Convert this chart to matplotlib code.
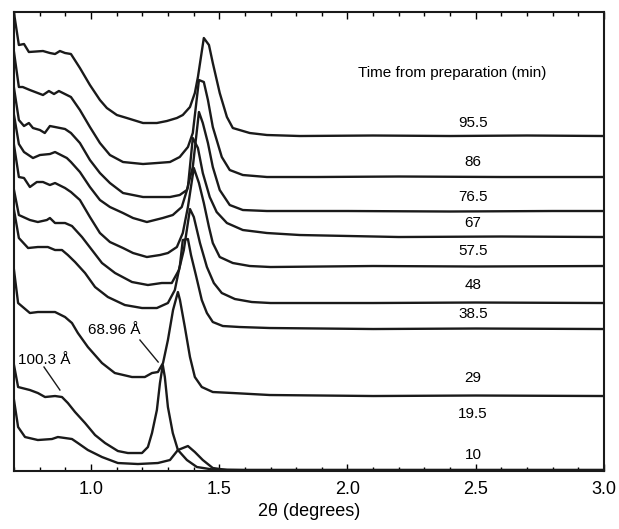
import matplotlib
matplotlib.use("Agg")
import matplotlib.pyplot as plt
from matplotlib.ticker import MultipleLocator

plt.rcParams['font.family'] = ['Liberation Sans', 'DejaVu Sans']

# stacked SAXS patterns, intensity in arbitrary (offset) units
# each curve: (2theta list, intensity list)
t95_5_x = [0.70, 0.719, 0.739, 0.758, 0.813, 0.840, 0.860, 0.879, 0.899, 0.922, 0.957, 0.996, 1.035,
           1.062, 1.101, 1.140, 1.203, 1.257, 1.296, 1.335, 1.358, 1.386, 1.405, 1.417, 1.440, 1.460,
           1.475, 1.502, 1.530, 1.553, 1.619, 1.686, 1.814, 2.1, 2.4, 2.7, 3.0]
t95_5_y = [458, 426, 427, 419, 420, 418, 417, 420, 418, 417, 403, 386, 371,
           363, 356, 353, 348, 348, 350, 353, 356, 364, 378, 394, 433, 426,
           408, 378, 354, 343, 338, 336, 335, 335.5, 335, 335.5, 335]

t86_x = [0.70, 0.719, 0.734, 0.762, 0.813, 0.836, 0.856, 0.875, 0.922, 0.957, 0.996, 1.035, 1.074,
         1.125, 1.203, 1.257, 1.308, 1.346, 1.378, 1.397, 1.421, 1.440, 1.456, 1.475, 1.510, 1.541,
         1.592, 1.686, 1.880, 2.2, 2.6, 3.0]
t86_y = [419, 384, 384, 381, 376, 380, 377, 380, 374, 361, 344, 328, 316,
         309, 307, 308, 309, 314, 324, 338, 391, 389, 371, 344, 314, 301,
         296, 294, 294, 294.5, 294, 294]

t76_5_x = [0.70, 0.719, 0.739, 0.758, 0.774, 0.801, 0.820, 0.840, 0.860, 0.899, 0.922, 0.957, 0.996,
           1.035, 1.074, 1.125, 1.203, 1.257, 1.308, 1.346, 1.374, 1.397, 1.421, 1.436, 1.456, 1.475,
           1.502, 1.541, 1.592, 1.686, 2.0, 2.4, 2.8, 3.0]
t76_5_y = [383, 351, 345, 348, 343, 341, 338, 345, 344, 342, 338, 328, 311,
           298, 288, 278, 274, 274, 274, 276, 281, 304, 359, 348, 328, 304,
           281, 266, 261, 260, 260, 259.5, 260, 260]

t67_x = [0.70, 0.719, 0.739, 0.774, 0.801, 0.840, 0.860, 0.906, 0.922, 0.957, 0.996, 1.035, 1.074,
         1.125, 1.164, 1.218, 1.280, 1.319, 1.354, 1.378, 1.397, 1.417, 1.436, 1.463, 1.490, 1.530,
         1.592, 1.686, 1.814, 2.2, 2.6, 3.0]
t67_y = [356, 327, 319, 313, 316, 317, 319, 313, 309, 299, 284, 271, 264,
         258, 253, 249, 253, 256, 264, 284, 333, 323, 298, 274, 259, 248,
         241, 238, 236, 234, 234.5, 234]

t57_5_x = [0.70, 0.719, 0.739, 0.762, 0.789, 0.813, 0.840, 0.860, 0.899, 0.922, 0.957, 0.996, 1.035,
           1.074, 1.125, 1.164, 1.218, 1.269, 1.300, 1.335, 1.358, 1.378, 1.401, 1.421, 1.440, 1.460,
           1.475, 1.502, 1.553, 1.619, 1.70, 2.1, 2.5, 3.0]
t57_5_y = [326, 294, 293, 284, 289, 289, 286, 288, 283, 279, 271, 254, 238,
           229, 223, 218, 214, 216, 218, 224, 238, 264, 303, 288, 268, 244,
           228, 214, 208, 205, 204, 205, 204.5, 205]

t48_x = [0.70, 0.719, 0.762, 0.793, 0.828, 0.840, 0.860, 0.899, 0.926, 0.965, 1.004, 1.043, 1.094,
         1.160, 1.222, 1.276, 1.315, 1.343, 1.362, 1.386, 1.401, 1.425, 1.452, 1.479, 1.510, 1.561,
         1.627, 1.70, 2.1, 2.5, 3.0]
t48_y = [281, 256, 251, 249, 251, 253, 248, 248, 245, 234, 221, 208, 198,
         189, 186, 188, 188, 201, 221, 262, 254, 228, 204, 188, 178, 172,
         169, 168, 168, 168.5, 168]

t38_5_x = [0.70, 0.719, 0.755, 0.793, 0.832, 0.860, 0.887, 0.910, 0.938, 0.977, 1.016, 1.066, 1.132,
           1.199, 1.257, 1.300, 1.327, 1.347, 1.358, 1.378, 1.390, 1.409, 1.432, 1.452, 1.475, 1.514,
           1.580, 1.697, 2.1, 2.5, 3.0]
t38_5_y = [261, 233, 223, 224, 224, 221, 221, 216, 209, 198, 184, 174, 166,
           163, 163, 168, 181, 206, 231, 232, 216, 196, 171, 158, 149, 145,
           144, 143, 142, 142.5, 142]

t29_x = [0.70, 0.716, 0.762, 0.793, 0.860, 0.899, 0.926, 0.949, 0.988, 1.043, 1.093, 1.160, 1.210,
         1.238, 1.261, 1.281, 1.300, 1.320, 1.339, 1.347, 1.366, 1.386, 1.405, 1.432, 1.475, 1.553,
         1.697, 2.1, 2.5, 3.0]
t29_y = [201, 168, 158, 159, 159, 154, 148, 138, 124, 108, 98, 94, 94,
         98, 99, 108, 131, 161, 179, 171, 144, 114, 94, 84, 79, 78,
         76, 75, 75.5, 75]

t19_5_x = [0.70, 0.716, 0.762, 0.793, 0.821, 0.860, 0.887, 0.910, 0.938, 0.977, 1.016, 1.055, 1.105,
           1.144, 1.199, 1.222, 1.238, 1.257, 1.269, 1.280, 1.288, 1.300, 1.319, 1.339, 1.374, 1.413,
           1.475, 1.6, 2.0, 2.5, 3.0]
t19_5_y = [106, 84, 81, 78, 74, 75, 74, 68, 59, 48, 36, 28, 20,
           18, 18, 24, 38, 61, 88, 106, 94, 64, 38, 21, 11, 4,
           1.5, 1, 1, 1, 1]

t10_x = [0.70, 0.716, 0.743, 0.793, 0.848, 0.871, 0.899, 0.926, 0.949, 0.988, 1.043, 1.105, 1.183,
         1.261, 1.308, 1.339, 1.378, 1.405, 1.436, 1.475, 1.530, 2.0, 2.5, 3.0]
t10_y = [71, 44, 34, 31, 32, 34, 33, 32, 28, 21, 14, 8, 7,
         8, 11, 21, 25, 19, 11, 3, 1, 1, 1, 1]

curves = [(t95_5_x, t95_5_y), (t86_x, t86_y), (t76_5_x, t76_5_y), (t67_x, t67_y),
          (t57_5_x, t57_5_y), (t48_x, t48_y), (t38_5_x, t38_5_y), (t29_x, t29_y),
          (t19_5_x, t19_5_y), (t10_x, t10_y)]

times = ['95.5', '86', '76.5', '67', '57.5', '48', '38.5', '29', '19.5', '10']
label_y = [348, 309, 274, 248, 220, 186, 157, 93, 57, 16]

# d-spacing callouts: text position and pointer line ends
d_labels = ['68.96 Å', '100.3 Å']
d_text_xy = [(0.988, 141), (0.716, 111)]
d_line_x = [(1.191, 1.262), (0.817, 0.879)]
d_line_y = [(131, 109), (104, 81)]

fig = plt.figure(figsize=(6.19, 5.29), dpi=100)
ax = fig.add_axes([0.0226, 0.1096, 0.9532, 0.8677])

for (x, y) in curves:
    ax.plot(x, y, color='#1a1a1a', lw=1.7)

for t, ly in zip(times, label_y):
    ax.text(2.49, ly, t, ha='center', va='center', fontsize=11)

ax.text(2.41, 398, 'Time from preparation (min)', ha='center', va='center', fontsize=11)

for lab, (tx, ty), lx, ly in zip(d_labels, d_text_xy, d_line_x, d_line_y):
    ax.text(tx, ty, lab, ha='left', va='center', fontsize=11)
    ax.plot(lx, ly, color='#1a1a1a', lw=1.0)

ax.set_xlim(0.7, 3.0)
ax.set_ylim(0, 459)
ax.set_yticks([])
ax.xaxis.set_major_locator(MultipleLocator(0.5))
ax.xaxis.set_minor_locator(MultipleLocator(0.1))
ax.tick_params(axis='x', which='both', direction='in', top=True, labelsize=13, pad=7)
ax.tick_params(axis='x', which='major', length=5, width=1)
ax.tick_params(axis='x', which='minor', length=3, width=1)
for s in ax.spines.values():
    s.set_linewidth(1.5)
    s.set_color('#1a1a1a')

ax.set_xlabel('2θ (degrees)', fontsize=13, labelpad=4)

fig.savefig('out.png', dpi=100)
